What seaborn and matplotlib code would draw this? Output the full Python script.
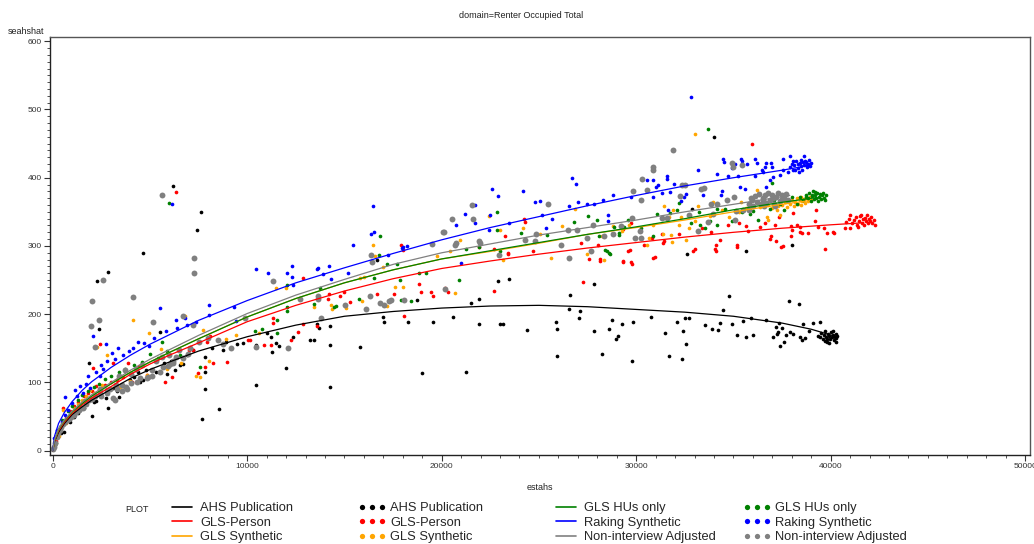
import numpy as np
import pandas as pd
import matplotlib
matplotlib.use("Agg")
import matplotlib.pyplot as plt
from matplotlib.lines import Line2D
from matplotlib.ticker import MultipleLocator
import seaborn as sns

sns.set_style("white")
plt.rcParams['font.family'] = ['Liberation Sans', 'DejaVu Sans']

# ---- series names / colours ----
series = ["AHS Publication", "GLS-Person", "GLS Synthetic",
          "GLS HUs only", "Raking Synthetic", "Non-interview Adjusted"]
colors = ["#000000", "#ff0000", "#ffa500", "#008000", "#0000ff", "#808080"]

# ---- points (estahs, seahshat) ----
ahs_pts = [
    (100, 8), (205, 20), (400, 26), (580, 28), (890, 42), (1100, 50), (1300, 55), (1400, 60),
    (1600, 62), (1880, 129), (2000, 51), (2100, 72), (2230, 73), (2260, 249), (2400, 178),
    (2500, 80), (2740, 77), (2860, 62), (2860, 262), (3100, 92), (3290, 88), (3420, 79),
    (3600, 95), (3970, 104), (4200, 108), (4400, 116), (4490, 101), (4630, 104), (4660, 289),
    (4800, 118), (5300, 116), (5510, 174), (5700, 128), (5860, 112), (6100, 132), (6200, 388),
    (6290, 118), (6540, 126), (6710, 127), (6900, 140), (7200, 148), (7420, 323), (7620, 350),
    (7660, 46), (7830, 91), (7830, 115), (7830, 138), (8200, 150), (8550, 61), (8770, 147),
    (8900, 160), (9460, 157), (9800, 158), (10430, 97), (10430, 155), (11000, 172), (11200, 167),
    (11260, 145), (11480, 158), (11650, 154), (12010, 121), (12370, 166), (13230, 162),
    (13420, 162), (13600, 186), (13700, 180), (14250, 93), (14260, 155), (14260, 183),
    (15800, 152), (16690, 280), (16960, 196), (17040, 189), (18280, 188), (18710, 221),
    (18970, 114), (19560, 188), (20590, 196), (21250, 116), (21500, 216), (21900, 186),
    (21930, 222), (22920, 248), (22990, 186), (23160, 185), (23470, 251), (24390, 177),
    (25900, 188), (25950, 178), (25940, 139), (26590, 228), (26530, 208), (27060, 194),
    (27090, 205), (27820, 245), (27830, 176), (28220, 142), (28590, 179), (28760, 192),
    (28970, 164), (29090, 168), (29280, 185), (29790, 132), (29840, 189), (30770, 196),
    (31460, 172), (31690, 139), (32120, 188), (32340, 135), (32410, 175), (32520, 194),
    (32580, 156), (32620, 288), (32730, 195), (32850, 354), (33550, 184), (33900, 179),
    (34020, 460), (34220, 177), (34310, 187), (34480, 206), (34790, 227), (34920, 185),
    (35190, 170), (35510, 190), (35630, 292), (35650, 167), (35880, 195), (35990, 170),
    (36680, 192), (37040, 167), (37180, 181), (37230, 171), (37300, 174), (37340, 187),
    (37420, 154), (37520, 180), (37620, 160), (37680, 170), (37860, 219), (37890, 174),
    (37990, 302), (38060, 171), (38390, 215), (38410, 166), (38550, 162), (38590, 185),
    (38700, 165), (38870, 176), (39110, 187), (39470, 188), (39470, 166), (39810, 164),
    (39350, 168), (39500, 172), (39600, 163), (39650, 170), (39700, 175), (39750, 166),
    (39800, 160), (39850, 171), (39900, 168), (39950, 163), (40000, 174), (40050, 167),
    (40100, 170), (40150, 162), (40200, 166), (40250, 171), (40300, 165), (40350, 168),
    (39900, 158), (40100, 176), (39700, 161), (40250, 160),
]
person_pts = [
    (150, 14), (300, 28), (550, 63), (700, 48), (900, 58), (1100, 66), (1320, 62), (1300, 72),
    (1600, 80), (1800, 84), (2000, 88), (2050, 121), (2200, 95), (2430, 157), (2500, 92),
    (2700, 97), (3000, 100), (3110, 128), (3300, 104), (3600, 108), (3890, 129), (4060, 101),
    (4420, 124), (4830, 111), (5770, 100), (6120, 108), (6320, 379), (6990, 147), (7230, 148),
    (7450, 114), (7830, 122), (7920, 159), (8090, 168), (8260, 128), (8950, 130), (10020, 162),
    (10160, 162), (10880, 155), (11230, 155), (11340, 194), (11340, 187), (12230, 162),
    (12620, 174), (12880, 253), (12880, 186), (13600, 183), (14140, 222), (14220, 229),
    (14760, 226), (14990, 232), (15050, 214), (15290, 218), (16690, 229), (17540, 230),
    (17900, 301), (18030, 294), (18080, 197), (18810, 245), (18950, 233), (19460, 232),
    (19560, 226), (20160, 238), (20330, 232), (21910, 298), (22700, 234), (22700, 296),
    (23250, 315), (23390, 288), (23420, 289), (24210, 340), (24280, 335), (24700, 293),
    (27150, 305), (27250, 247), (27550, 281), (28060, 301), (28130, 278), (28160, 281),
    (29300, 278), (29320, 325), (29340, 276), (29580, 292), (29660, 294), (29710, 334),
    (29730, 277), (29800, 274), (30410, 301), (30790, 312), (30870, 283), (30960, 284),
    (31350, 318), (31390, 304), (31420, 308), (32190, 317), (32900, 293), (33010, 296),
    (33360, 327), (33870, 321), (34050, 295), (34080, 301), (34130, 292), (34300, 309),
    (34710, 330), (35160, 298), (35190, 302), (35290, 334), (35670, 329), (35750, 322),
    (35930, 450), (36380, 328), (36640, 334), (36900, 310), (36930, 315), (37130, 331),
    (37170, 307), (37320, 343), (37470, 299), (37530, 300), (37980, 315), (37980, 329),
    (38000, 323), (38040, 348), (38260, 331), (38400, 328), (38440, 321), (38550, 319),
    (38840, 319), (39180, 336), (39270, 352), (39350, 328), (39670, 326), (39700, 295),
    (39790, 319), (40120, 321), (40180, 319), (40760, 327), (41020, 327),
    (40800, 335), (40950, 340), (41100, 333), (41200, 338), (41300, 342), (41350, 331),
    (41450, 337), (41500, 344), (41600, 334), (41650, 339), (41700, 330), (41750, 341),
    (41800, 336), (41850, 345), (41900, 333), (41950, 339), (42000, 336), (42100, 342),
    (42150, 334), (42250, 338), (42300, 331), (41400, 328), (41550, 346), (41000, 345),
]
synth_pts = [
    (120, 10), (300, 22), (550, 59), (700, 40), (900, 52), (1100, 63), (1300, 68), (1500, 74),
    (1700, 80), (1910, 89), (2100, 84), (2260, 152), (2520, 96), (2780, 140), (3000, 92),
    (3450, 94), (3970, 102), (4150, 191), (4830, 111), (4930, 172), (5580, 149), (5860, 120),
    (6620, 128), (6800, 197), (7380, 110), (7570, 108), (7710, 177), (8030, 132), (8900, 164),
    (9400, 170), (10600, 172), (11480, 239), (12000, 239), (13440, 211), (14290, 214),
    (14350, 207), (15080, 209), (15800, 253), (15890, 220), (16000, 254), (16480, 301),
    (16560, 285), (17000, 269), (17170, 212), (17620, 240), (17990, 240), (19760, 285),
    (20450, 293), (20690, 231), (20930, 309), (22410, 344), (23020, 323), (23130, 279),
    (24190, 327), (25040, 318), (25630, 282), (26190, 329), (26850, 354), (27480, 288),
    (28220, 314), (28340, 279), (28820, 329), (29250, 322), (29620, 331), (30540, 301),
    (30660, 312), (30880, 331), (31370, 317), (31440, 358), (31700, 342), (31800, 316),
    (31830, 306), (31880, 353), (32200, 330), (32290, 343), (32550, 309), (32740, 327),
    (33020, 337), (33020, 464), (33190, 359), (33790, 344), (33970, 364), (34400, 353),
    (34780, 343), (35290, 350), (35370, 365), (35640, 355), (36190, 382), (36370, 357),
    (36710, 343), (36800, 338), (37140, 362), (37220, 352), (37400, 346),
    (37500, 360), (37650, 364), (37750, 357), (37800, 366), (37900, 362), (38000, 368),
    (38100, 359), (38150, 365), (38250, 370), (38300, 362), (38400, 367), (38450, 372),
    (38500, 360), (38550, 366), (38650, 369), (38700, 363), (38800, 370), (38850, 366),
    (38950, 372), (39000, 368), (36500, 358), (36800, 360), (37000, 356), (37300, 358),
]
hus_pts = [
    (150, 12), (300, 32), (500, 45), (800, 58), (1000, 66), (1300, 75), (1500, 82), (1800, 88),
    (2100, 94), (2400, 98), (2700, 105), (3000, 110), (3400, 116), (3700, 120), (4200, 126),
    (4600, 130), (5000, 142), (5400, 136), (5600, 160), (5900, 146), (6000, 363), (6530, 140),
    (7570, 123), (10420, 175), (10750, 179), (11520, 172), (11550, 192), (12030, 204),
    (12060, 243), (12070, 211), (13460, 215), (13740, 238), (14470, 211), (14570, 212),
    (15740, 223), (16530, 253), (16790, 287), (16850, 314), (17180, 273), (17710, 273),
    (17880, 250), (17910, 221), (18440, 220), (18810, 261), (19170, 261), (20910, 250),
    (21240, 296), (21930, 299), (22820, 350), (22820, 323), (22980, 293), (24100, 319),
    (25410, 316), (26800, 335), (27540, 344), (27970, 338), (28110, 314), (28390, 294),
    (28490, 293), (28610, 289), (28630, 288), (28860, 328), (29100, 319), (29130, 316),
    (29360, 328), (29590, 338), (30270, 327), (30870, 315), (31050, 347), (31740, 349),
    (32080, 352), (32200, 363), (32800, 333), (33250, 350), (33280, 331), (33540, 326),
    (33690, 472), (33800, 336), (34140, 354), (34140, 331), (34570, 354), (34920, 337),
    (35430, 350), (35860, 347), (36030, 351), (36250, 338), (36880, 354), (36960, 392),
    (37110, 368), (37390, 361), (37620, 352), (37990, 372), (38250, 362), (38420, 372),
    (38710, 372),
    (38600, 368), (38750, 375), (38850, 370), (38900, 378), (39000, 366), (39050, 373),
    (39100, 380), (39150, 369), (39200, 375), (39250, 371), (39300, 377), (39350, 366),
    (39400, 372), (39450, 376), (39500, 369), (39550, 374), (39600, 378), (39650, 371),
    (39700, 367), (39750, 374), (39020, 375), (39190, 379),
]
raking_pts = [
    (70, 18), (200, 30), (480, 42), (630, 52), (630, 79), (800, 60), (970, 70), (1150, 89),
    (1250, 80), (1400, 95), (1570, 85), (1700, 98), (1800, 110), (1910, 92), (2090, 168),
    (2200, 115), (2430, 109), (2460, 126), (2600, 120), (2740, 157), (2770, 131), (3030, 143),
    (3200, 135), (3370, 150), (3600, 140), (3900, 146), (4110, 150), (4400, 160), (4700, 158),
    (4970, 153), (5200, 165), (5500, 209), (5800, 175), (6150, 361), (6360, 192), (6400, 180),
    (6790, 194), (6920, 184), (7380, 189), (8030, 214), (8050, 199), (9310, 210), (9400, 190),
    (10430, 266), (11050, 260), (12030, 261), (12290, 270), (12290, 255), (12370, 243),
    (13590, 266), (13620, 268), (13900, 259), (14190, 271), (14290, 251), (15180, 260),
    (15450, 301), (16380, 317), (16470, 359), (16530, 320), (17230, 287), (17940, 297),
    (17990, 299), (18210, 300), (20760, 331), (20970, 275), (21210, 347), (21700, 360),
    (21730, 334), (22440, 324), (22470, 345), (22600, 384), (22900, 373), (23470, 333),
    (24180, 381), (24800, 365), (25050, 366), (25140, 346), (25360, 326), (25650, 340),
    (26560, 359), (26680, 400), (26890, 391), (27020, 365), (27450, 362), (27850, 362),
    (28270, 367), (28540, 336), (28560, 345), (28810, 375), (29750, 372), (30570, 396),
    (30870, 397), (30870, 372), (31040, 386), (31120, 389), (31350, 378), (31580, 398),
    (31590, 403), (31650, 352), (31760, 379), (31940, 391), (32300, 366), (32470, 372),
    (32560, 376), (32800, 519), (33190, 411), (33420, 374), (34140, 406), (34370, 375),
    (34400, 380), (34480, 428), (34530, 423), (34740, 403), (34930, 414), (35080, 420),
    (35250, 403), (35330, 387), (35390, 428), (35460, 424), (35590, 384), (35680, 420),
    (36110, 428), (36110, 402), (36200, 422), (36450, 411), (36540, 408), (36620, 416),
    (36660, 387), (36680, 422), (36880, 397), (36910, 422), (36980, 415), (37050, 401),
    (37400, 404), (37540, 427), (37570, 411), (37830, 409), (37910, 432), (38000, 420),
    (38040, 425), (38170, 411), (38340, 420), (38600, 423), (38630, 432), (38700, 425),
    (38770, 419),
    (37900, 415), (38100, 418), (38200, 424), (38300, 414), (38400, 421), (38450, 417),
    (38500, 426), (38550, 412), (38650, 418), (38750, 423), (38800, 415), (38850, 420),
    (38900, 426), (38950, 417), (39000, 421), (38350, 409), (38050, 412),
]
nonint_pts = [
    (0, 3), (60, 6), (120, 11), (205, 20), (280, 26), (375, 30), (450, 35), (550, 39),
    (650, 42), (720, 45), (830, 47), (925, 49), (1000, 52), (1100, 53), (1200, 57), (1330, 60),
    (1400, 64), (1540, 63), (1660, 73), (1710, 68), (1880, 75), (2000, 76), (2180, 80),
    (2430, 84), (2430, 90), (2500, 80), (2770, 89), (2780, 84), (2970, 91), (3120, 77),
    (3200, 74), (3250, 96), (3290, 91), (3400, 110), (3540, 97), (3550, 88), (3700, 118),
    (3760, 94), (3800, 91), (4000, 112), (4050, 99), (4300, 120), (4350, 101), (4490, 106),
    (4600, 125), (4830, 106), (4900, 108), (5080, 110), (5080, 118), (5300, 131), (5510, 115),
    (5600, 138), (5680, 122), (5940, 124), (6000, 140), (6050, 127), (6160, 129), (6200, 131),
    (6360, 137), (6500, 148), (6680, 136), (6980, 141), (7070, 150), (7500, 160), (8000, 165),
    (8500, 162), (9170, 151),
    (1970, 183), (2000, 219), (2180, 152), (2400, 191), (2600, 250), (4150, 225), (5170, 188),
    (5630, 374), (6700, 198), (7230, 184), (7260, 282), (7280, 261), (8770, 157), (9890, 194),
    (10450, 152), (11340, 249), (12080, 151), (12720, 223), (13620, 226), (13620, 222),
    (13810, 194), (15010, 213), (16130, 207), (16300, 226), (16340, 287), (16410, 277),
    (16830, 216), (17030, 213), (17310, 220), (17410, 221), (18060, 221), (19480, 303),
    (20050, 321), (20110, 320), (20160, 237), (20550, 339), (20690, 301), (20750, 305),
    (21540, 360), (21600, 339), (21910, 308), (21970, 305), (22950, 287), (24260, 309),
    (24800, 307), (24840, 317), (25460, 361), (26150, 302), (26510, 323), (26540, 282),
    (26940, 324), (27480, 311), (27660, 293), (27780, 330), (28340, 314), (28820, 318),
    (29200, 329), (29780, 341), (29830, 380), (29920, 312), (30210, 322), (30270, 311),
    (30270, 367), (30300, 398), (30570, 382), (30850, 411), (30860, 416), (31330, 341),
    (31600, 341), (31910, 440), (32240, 373), (32380, 389), (32490, 390), (32700, 345),
    (33160, 322), (33330, 384), (33470, 385), (33710, 335), (33870, 361), (33970, 347),
    (34140, 361), (34660, 367), (34910, 421), (34970, 415), (35050, 372), (35080, 338),
    (35120, 351), (35430, 419), (35510, 353), (35790, 353), (35950, 367), (36540, 367),
    (37050, 370), (37500, 369),
    (35800, 362), (35900, 370), (36000, 358), (36100, 373), (36200, 365), (36300, 376),
    (36400, 361), (36500, 370), (36600, 374), (36700, 363), (36800, 378), (36900, 368),
    (37000, 375), (37100, 362), (37200, 372), (37300, 377), (37400, 366), (37500, 374),
    (37600, 370), (37700, 376), (37800, 368), (36550, 358), (37150, 358),
]

# ---- fitted curves ----
ahs_fit_x = [0, 100, 300, 600, 1000, 1500, 2000, 3000, 4000, 5000, 6000, 7500, 10000, 12500,
             15000, 17500, 20000, 22500, 25000, 27500, 30000, 32500, 35000, 37500, 39000, 40300]
ahs_fit_y = [0, 14, 27, 40, 53, 64, 74, 90, 106, 119, 130, 146, 167, 184, 197, 204, 209, 212,
             213, 211, 207, 203, 197, 187, 178, 167]
person_fit_x = [0, 100, 300, 600, 1000, 1500, 2000, 3000, 4000, 5000, 6000, 7500, 10000, 12500,
                15000, 17500, 20000, 22500, 25000, 27500, 30000, 32500, 35000, 37500, 40000, 41700]
person_fit_y = [0, 15, 29, 42, 55, 67, 77, 94, 112, 127, 140, 158, 189, 213, 234, 252, 267, 278,
                288, 297, 305, 313, 320, 326, 331, 334]
synth_fit_x = [0, 100, 300, 600, 1000, 1500, 2000, 3000, 4000, 5000, 6000, 7500, 10000, 12500,
               15000, 17500, 20000, 22500, 25000, 27500, 30000, 32500, 35000, 37500, 38800]
synth_fit_y = [0, 16, 31, 44, 57, 69, 80, 98, 115, 130, 144, 164, 196, 223, 246, 265, 281, 292,
               304, 317, 327, 338, 350, 361, 366]
hus_fit_x = [0, 100, 300, 600, 1000, 1500, 2000, 3000, 4000, 5000, 6000, 7500, 10000, 12500,
             15000, 17500, 20000, 22500, 25000, 27500, 30000, 32500, 35000, 37500, 39300]
hus_fit_y = [0, 16, 31, 44, 57, 69, 80, 98, 115, 130, 144, 164, 196, 223, 246, 265, 281, 293,
             305, 317, 328, 340, 353, 364, 371]
raking_fit_x = [0, 100, 300, 600, 1000, 1500, 2000, 3000, 4000, 5000, 6000, 7500, 10000, 12500,
                15000, 17500, 20000, 22500, 25000, 27500, 30000, 32500, 35000, 37500, 38900]
raking_fit_y = [0, 22, 40, 56, 72, 88, 101, 122, 140, 156, 170, 191, 220, 246, 268, 289, 309,
                327, 343, 359, 374, 388, 400, 411, 418]
nonint_fit_x = [0, 100, 300, 600, 1000, 1500, 2000, 3000, 4000, 5000, 6000, 7500, 10000, 12500,
                15000, 17500, 20000, 22500, 25000, 27500, 30000, 32500, 35000, 37900]
nonint_fit_y = [0, 17, 32, 45, 58, 71, 82, 100, 118, 134, 148, 169, 201, 228, 251, 273, 290,
                303, 316, 327, 338, 350, 361, 374]

points = [ahs_pts, person_pts, synth_pts, hus_pts, raking_pts, nonint_pts]
fits = [(ahs_fit_x, ahs_fit_y), (person_fit_x, person_fit_y), (synth_fit_x, synth_fit_y),
        (hus_fit_x, hus_fit_y), (raking_fit_x, raking_fit_y), (nonint_fit_x, nonint_fit_y)]
sizes = [7, 7, 7, 7, 7, 18]

W, H = 1034, 544
fig = plt.figure(figsize=(W / 100, H / 100), dpi=100)
ax = fig.add_axes([50 / W, 1 - 455 / H, 980 / W, 418 / H])

for name, pts, c, s in zip(series, points, colors, sizes):
    df = pd.DataFrame(pts, columns=["estahs", "seahshat"])
    sns.scatterplot(data=df, x="estahs", y="seahshat", color=c, s=s, linewidth=0,
                    ax=ax, legend=False, zorder=2)

for (fx, fy), c in zip(fits, colors):
    sns.lineplot(x=fx, y=fy, color=c, lw=0.9, ax=ax, sort=False, estimator=None,
                 legend=False, zorder=3)

ax.set_xlim(-140, 50250)
ax.set_ylim(-6.3, 606.2)
ax.xaxis.set_major_locator(MultipleLocator(10000))
ax.xaxis.set_minor_locator(MultipleLocator(1000))
ax.yaxis.set_major_locator(MultipleLocator(100))
ax.yaxis.set_minor_locator(MultipleLocator(10))
ax.tick_params(which="major", direction="out", length=4, width=0.8, colors="#333333",
               labelsize=6, pad=2)
ax.tick_params(which="minor", direction="out", length=2, width=0.6, colors="#333333")
ax.tick_params(axis="x", which="both", bottom=True)
ax.tick_params(axis="y", which="both", left=True)
for sp in ax.spines.values():
    sp.set_color("#555555")
    sp.set_linewidth(1.0)
ax.spines["left"].set_color("#222222")
ax.spines["bottom"].set_color("#222222")

ax.set_xlabel("estahs", fontsize=6.5, color="#222222", labelpad=9)
ax.set_ylabel("")
fig.text(8 / W, 1 - 31 / H, "seahshat", fontsize=6.5, color="#222222", va="center", ha="left")
fig.text(521 / W, 1 - 15 / H, "domain=Renter Occupied Total", fontsize=6.5,
         color="#222222", ha="center", va="center")

# ---- legend below the plot ----
fig.text(125 / W, 1 - 509 / H, "PLOT", fontsize=6.5, color="#222222", va="center", ha="left")
fs = 9.3
groups = [(0, 3, "line", 168), (0, 3, "dots", 358), (3, 6, "line", 552), (3, 6, "dots", 743)]
for i0, i1, kind, xpx in groups:
    handles = []
    for k in range(i0, i1):
        if kind == "line":
            handles.append(Line2D([], [], color=colors[k], lw=1.2))
        else:
            handles.append(Line2D([], [], color=colors[k], marker="o", ls="", markersize=3.8,
                                  markeredgewidth=0))
    fig.legend(handles, series[i0:i1], loc="upper left",
               bbox_to_anchor=(xpx / W, 1 - 502 / H), bbox_transform=fig.transFigure,
               frameon=False, fontsize=fs, borderpad=0, labelspacing=0.2,
               handlelength=2.17, handletextpad=0.31, numpoints=3, borderaxespad=0)

fig.savefig("out.png", dpi=100)
